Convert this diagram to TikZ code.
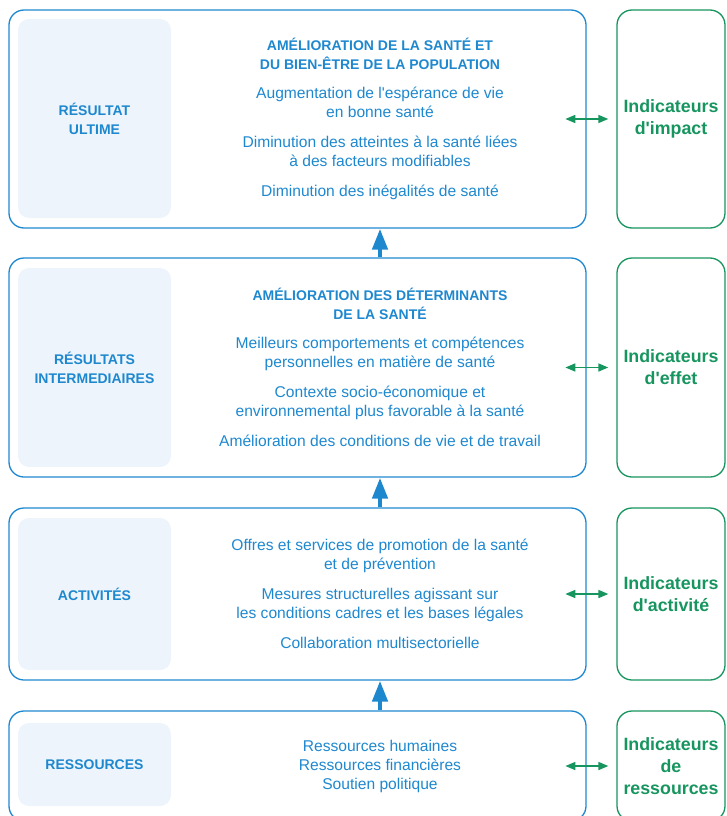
\documentclass[tikz,border=0pt]{standalone}
\usepackage{fontspec}
\setmainfont{Liberation Sans}
\usetikzlibrary{arrows.meta,positioning,calc}
\definecolor{Blue}{HTML}{1E88CF}
\definecolor{Green}{HTML}{17955F}
\definecolor{Pale}{HTML}{EEF4FB}
\newcommand\hdfont{\fontsize{14}{18}\selectfont\bfseries}
\newcommand\apos{\textquotesingle}

\begin{document}
\begin{tikzpicture}[x=1pt,y=-1pt,
    level/.style={rounded corners=15pt,draw=Blue,line width=1.3pt,
      minimum width=577pt,inner sep=0pt},
    tag/.style={rounded corners=11pt,fill=Pale,minimum width=153pt,inner sep=0pt,
      align=center,text=Blue,font=\fontsize{14}{19}\selectfont\bfseries},
    ind/.style={rounded corners=15pt,draw=Green,line width=1.3pt,minimum width=108pt,
      inner sep=0pt,align=center,text=Green,font=\fontsize{17.8}{22}\selectfont\bfseries},
    body/.style={align=center,text=Blue,font=\fontsize{15.6}{19}\selectfont},
    up/.style={-{Triangle[width=15pt,length=21pt]},line width=4.5pt,Blue},
    link/.style={{Triangle[width=8pt,length=10pt]}-{Triangle[width=8pt,length=10pt]},line width=1.6pt,Green}
  ]
    \useasboundingbox (0,0) rectangle (726,816);
    % outcome levels
    \node[level,minimum height=218pt] (ult) at (297.5,119) {};
    \node[level,minimum height=219pt] (inter) at (297.5,367.5) {};
    \node[level,minimum height=172pt] (act) at (297.5,594) {};
    \node[level,minimum height=110pt] (res) at (297.5,766) {};
    \node[tag,minimum height=199pt] (ultT) at (94.5,118.5) {RÉSULTAT\\ULTIME};
    \node[tag,minimum height=199pt] (interT) at (94.5,367.5) {RÉSULTATS\\INTERMEDIAIRES};
    \node[tag,minimum height=152pt] (actT) at (94.5,594) {ACTIVITÉS};
    \node[tag,minimum height=83pt] (resT) at (94.5,764.5) {RESSOURCES};
    % contents
    \node[body] (ultB) at (380,119) {{\hdfont AMÉLIORATION DE LA SANTÉ ET}\\{\hdfont DU BIEN-ÊTRE DE LA POPULATION}\\[10pt]
      Augmentation de l\apos espérance de vie\\en bonne santé\\[11pt]
      Diminution des atteintes à la santé liées\\à des facteurs modifiables\\[11pt]
      Diminution des inégalités de santé};
    \node[body] (interB) at (380,367.5) {{\hdfont AMÉLIORATION DES DÉTERMINANTS}\\{\hdfont DE LA SANTÉ}\\[10pt]
      Meilleurs comportements et compétences\\personnelles en matière de santé\\[11pt]
      Contexte socio-économique et\\environnemental plus favorable à la santé\\[11pt]
      Amélioration des conditions de vie et de travail};
    \node[body] (actB) at (380,594) {Offres et services de promotion de la santé\\et de prévention\\[11pt]
      Mesures structurelles agissant sur\\les conditions cadres et les bases légales\\[11pt]
      Collaboration multisectorielle};
    \node[body] (resB) at (380,766) {Ressources humaines\\Ressources financières\\Soutien politique};
    % indicators
    \node[ind,minimum height=218pt] (indU) at (671,119) {Indicateurs\\d\apos impact};
    \node[ind,minimum height=219pt] (indI) at (671,367.5) {Indicateurs\\d\apos effet};
    \node[ind,minimum height=172pt] (indA) at (671,594) {Indicateurs\\d\apos activité};
    \node[ind,minimum height=110pt] (indR) at (671,766) {Indicateurs\\de\\ressources};
    \draw[up] (resB |- res.north) -- (resB |- act.south);
    \draw[up] (actB |- act.north) -- (actB |- inter.south);
    \draw[up] (interB |- inter.north) -- (interB |- ult.south);
    \foreach \n in {indU,indI,indA,indR}
      \draw[link] ([xshift=-51pt]\n.west) -- ([xshift=-8pt]\n.west);
  \end{tikzpicture}
\end{document}
